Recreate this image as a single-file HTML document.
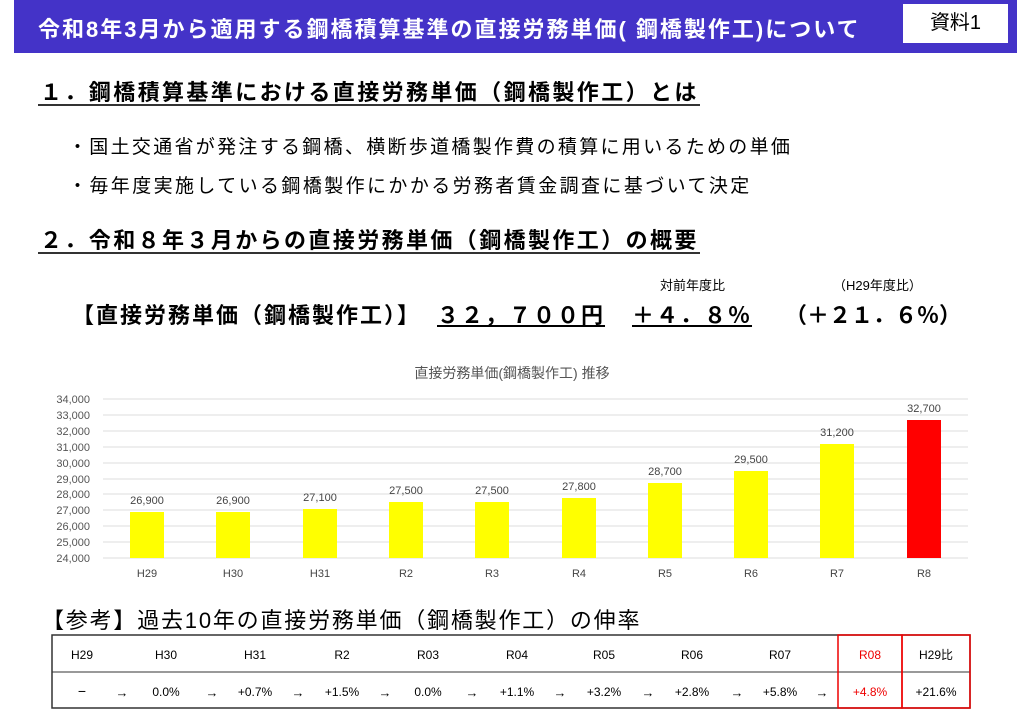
<!DOCTYPE html>
<html><head><meta charset="utf-8"><style>
body{margin:0;width:1024px;height:725px;background:#fff;position:relative;overflow:hidden;font-family:"Liberation Sans","Noto Sans CJK JP",sans-serif;}
.a{position:absolute;white-space:nowrap;}
.b{font-size:22px;font-weight:bold;letter-spacing:2px;}
</style></head><body>
<div class="a" style="left:14px;top:0;width:1003px;height:53px;background:#4433c8;"></div>
<div class="a" style="left:38px;top:12px;color:#fff;font-size:22px;font-weight:bold;letter-spacing:2px;">令和8年3月から適用する鋼橋積算基準の直接労務単価( 鋼橋製作工)について</div>
<div class="a" style="left:903px;top:4px;width:105px;height:39px;background:#fff;text-align:center;line-height:39px;font-size:20px;">資料1</div>

<div class="a" style="left:40px;top:75px;font-size:22px;font-weight:bold;letter-spacing:2.4px;">１．鋼橋積算基準における直接労務単価（鋼橋製作工）とは</div>
<div class="a" style="left:38px;top:104px;width:662px;height:2px;background:#333;"></div>
<div class="a" style="left:68px;top:132px;font-size:19px;letter-spacing:2.3px;">・国土交通省が発注する鋼橋、横断歩道橋製作費の積算に用いるための単価</div>
<div class="a" style="left:68px;top:171px;font-size:19px;letter-spacing:2.4px;">・毎年度実施している鋼橋製作にかかる労務者賃金調査に基づいて決定</div>

<div class="a" style="left:40px;top:223px;font-size:22px;font-weight:bold;letter-spacing:2.4px;">２．令和８年３月からの直接労務単価（鋼橋製作工）の概要</div>
<div class="a" style="left:38px;top:252px;width:662px;height:2px;background:#333;"></div>
<div class="a" style="left:660px;top:275px;font-size:13px;">対前年度比</div>
<div class="a" style="left:833px;top:275px;font-size:13px;">（H29年度比）</div>
<div class="a b" style="left:72px;top:298px;">【直接労務単価（鋼橋製作工）】</div>
<div class="a b" style="left:437px;top:298px;text-decoration:underline;">３２，７００円</div>
<div class="a b" style="left:632px;top:298px;text-decoration:underline;">＋４．８％</div>
<div class="a b" style="left:785px;top:298px;letter-spacing:0;">（＋２１．６％）</div>

<svg class="a" style="left:0;top:0" width="1024" height="725">
<text x="512" y="378" font-size="14" fill="#555" text-anchor="middle" font-family="Liberation Sans, Noto Sans CJK JP, sans-serif">直接労務単価(鋼橋製作工)  推移</text>
<g stroke="#ddd" stroke-width="1">
<line x1="103" x2="968" y1="399" y2="399"/><line x1="103" x2="968" y1="415" y2="415"/><line x1="103" x2="968" y1="431" y2="431"/><line x1="103" x2="968" y1="447" y2="447"/><line x1="103" x2="968" y1="463" y2="463"/><line x1="103" x2="968" y1="479" y2="479"/><line x1="103" x2="968" y1="494" y2="494"/><line x1="103" x2="968" y1="510" y2="510"/><line x1="103" x2="968" y1="526" y2="526"/><line x1="103" x2="968" y1="542" y2="542"/><line x1="103" x2="968" y1="558" y2="558"/>
</g>
<g font-size="11" fill="#555" text-anchor="end" font-family="Liberation Sans, sans-serif">
<text x="90" y="403">34,000</text><text x="90" y="419">33,000</text><text x="90" y="435">32,000</text><text x="90" y="451">31,000</text><text x="90" y="467">30,000</text><text x="90" y="483">29,000</text><text x="90" y="498">28,000</text><text x="90" y="514">27,000</text><text x="90" y="530">26,000</text><text x="90" y="546">25,000</text><text x="90" y="562">24,000</text>
</g>
<g fill="#ffff00">
<rect x="130" y="512" width="34" height="46"/><rect x="216" y="512" width="34" height="46"/><rect x="303" y="509" width="34" height="49"/><rect x="389" y="502" width="34" height="56"/><rect x="475" y="502" width="34" height="56"/><rect x="562" y="498" width="34" height="60"/><rect x="648" y="483" width="34" height="75"/><rect x="734" y="471" width="34" height="87"/><rect x="820" y="444" width="34" height="114"/>
</g>
<rect x="907" y="420" width="34" height="138" fill="#ff0000"/>
<g font-size="11" fill="#444" text-anchor="middle" font-family="Liberation Sans, sans-serif">
<text x="147" y="504">26,900</text><text x="233" y="504">26,900</text><text x="320" y="501">27,100</text><text x="406" y="494">27,500</text><text x="492" y="494">27,500</text><text x="579" y="490">27,800</text><text x="665" y="475">28,700</text><text x="751" y="463">29,500</text><text x="837" y="436">31,200</text><text x="924" y="412">32,700</text>
<text x="147" y="577">H29</text><text x="233" y="577">H30</text><text x="320" y="577">H31</text><text x="406" y="577">R2</text><text x="492" y="577">R3</text><text x="579" y="577">R4</text><text x="665" y="577">R5</text><text x="751" y="577">R6</text><text x="837" y="577">R7</text><text x="924" y="577">R8</text>
</g>

<g font-size="12" fill="#000" text-anchor="middle" font-family="Liberation Sans, sans-serif">
<rect x="52" y="635" width="918" height="73" fill="none" stroke="#333" stroke-width="1.5"/>
<line x1="52" x2="970" y1="672" y2="672" stroke="#333" stroke-width="1"/>
<rect x="838" y="635" width="64" height="73" fill="none" stroke="#e00" stroke-width="1.5"/>
<rect x="902" y="635" width="68" height="73" fill="none" stroke="#e00" stroke-width="1.5"/>
<text x="82" y="659">H29</text><text x="166" y="659">H30</text><text x="255" y="659">H31</text><text x="342" y="659">R2</text><text x="428" y="659">R03</text><text x="517" y="659">R04</text><text x="604" y="659">R05</text><text x="692" y="659">R06</text><text x="780" y="659">R07</text><text x="870" y="659" fill="#e00">R08</text><text x="936" y="659">H29比</text>
<text x="82" y="696" font-size="14">−</text><text x="166" y="696">0.0%</text><text x="255" y="696">+0.7%</text><text x="342" y="696">+1.5%</text><text x="428" y="696">0.0%</text><text x="517" y="696">+1.1%</text><text x="604" y="696">+3.2%</text><text x="692" y="696">+2.8%</text><text x="780" y="696">+5.8%</text><text x="870" y="696" fill="#e00">+4.8%</text><text x="936" y="696">+21.6%</text>
</g>
<g font-size="13" fill="#000" text-anchor="middle" font-family="Liberation Sans, sans-serif">
<text x="122" y="697">→</text><text x="212" y="697">→</text><text x="298" y="697">→</text><text x="385" y="697">→</text><text x="472" y="697">→</text><text x="560" y="697">→</text><text x="648" y="697">→</text><text x="737" y="697">→</text><text x="822" y="697">→</text>
</g>
</svg>
<div class="a" style="left:42px;top:603px;font-size:22px;letter-spacing:1.8px;">【参考】過去10年の直接労務単価（鋼橋製作工）の伸率</div>
</body></html>
